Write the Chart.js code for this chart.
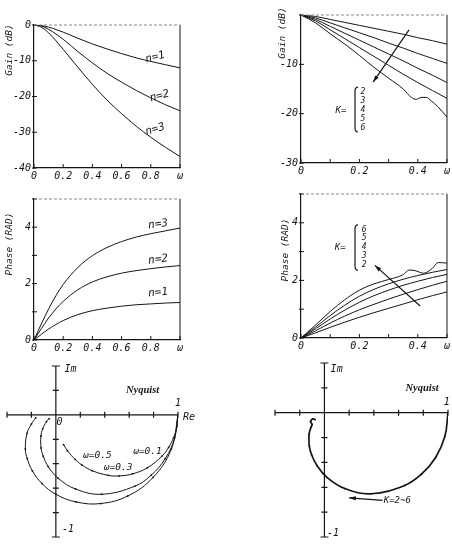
<!DOCTYPE html>
<html>
<head>
<meta charset="utf-8">
<script src="https://cdn.jsdelivr.net/npm/chart.js@4.4.1/dist/chart.umd.min.js"></script>
<style>
  body { margin: 0; background: #fff; }
  #wrap { position: relative; width: 452px; height: 545px; }
  canvas { position: absolute; }
</style>
</head>
<body>
<div id="wrap">
  <canvas id="gainN" width="200" height="190" style="left:0;top:0"></canvas>
  <canvas id="gainK" width="186" height="185" style="left:266px;top:0"></canvas>
  <canvas id="phaseN" width="200" height="170" style="left:0;top:190px"></canvas>
  <canvas id="phaseK" width="186" height="172" style="left:266px;top:185px"></canvas>
  <canvas id="nyqN" width="200" height="185" style="left:0;top:360px"></canvas>
  <canvas id="nyqK" width="226" height="188" style="left:226px;top:357px"></canvas>
</div>
<script>
// ---- left column: n = 1, 2, 3 ----
const omegaN = [0, 0.05, 0.1, 0.15, 0.2, 0.3, 0.4, 0.5, 0.6, 0.7, 0.8, 0.9, 1.0];
const gainN1 = [0, -0.16, -0.6, -1.25, -2.0, -3.7, -5.3, -6.7, -8.0, -9.2, -10.2, -11.1, -12.0];
const gainN2 = [0, -0.3, -1.2, -2.5, -4.0, -7.4, -10.6, -13.5, -16.0, -18.3, -20.4, -22.3, -24.0];
const gainN3 = [0, -0.6, -2.2, -4.4, -6.8, -11.8, -16.6, -21.0, -24.8, -28.3, -31.4, -34.2, -36.8];
const phaseN1 = [0, 0.2, 0.39, 0.55, 0.69, 0.9, 1.04, 1.13, 1.2, 1.25, 1.28, 1.31, 1.33];
const phaseN2 = [0, 0.4, 0.78, 1.1, 1.37, 1.78, 2.06, 2.24, 2.37, 2.46, 2.53, 2.59, 2.64];
const phaseN3 = [0, 0.57, 1.1, 1.57, 1.97, 2.57, 2.99, 3.28, 3.49, 3.65, 3.77, 3.87, 3.97];

// ---- right column: K = 2 .. 6 ----
const omegaK = [0, 0.05, 0.1, 0.15, 0.2, 0.25, 0.3, 0.35, 0.4, 0.45, 0.5];
const gainK2 = [0, -0.3, -0.9, -1.5, -2.1, -2.7, -3.3, -3.9, -4.6, -5.2, -5.9];
const gainK3 = [0, -0.6, -1.6, -2.6, -3.6, -4.6, -5.7, -6.7, -7.8, -8.8, -9.8];
const gainK4 = [0, -0.9, -2.3, -3.7, -5.1, -6.5, -7.9, -9.3, -10.8, -12.2, -13.7];
const gainK5 = [0, -1.2, -3.0, -4.8, -6.6, -8.4, -10.2, -12.0, -13.7, -15.3, -16.9];
const omegaK6gain = [0, 0.05, 0.1, 0.15, 0.2, 0.25, 0.3, 0.35, 0.378, 0.395, 0.412, 0.429, 0.446, 0.469, 0.5];
const gainK6 = [0, -1.6, -3.8, -5.9, -8.2, -10.6, -12.8, -15.0, -16.7, -17.1, -16.7, -16.7, -17.4, -18.6, -20.7];
const phaseK2 = [0, 0.18, 0.37, 0.55, 0.72, 0.88, 1.03, 1.18, 1.33, 1.47, 1.6];
const phaseK3 = [0, 0.25, 0.52, 0.76, 0.98, 1.17, 1.35, 1.52, 1.68, 1.83, 1.97];
const phaseK4 = [0, 0.32, 0.66, 0.97, 1.24, 1.47, 1.66, 1.83, 1.97, 2.1, 2.21];
const phaseK5 = [0, 0.38, 0.78, 1.14, 1.45, 1.69, 1.88, 2.04, 2.17, 2.28, 2.38];
const omegaK6phase = [0, 0.05, 0.1, 0.15, 0.2, 0.25, 0.3, 0.35, 0.37, 0.39, 0.42, 0.45, 0.47, 0.5];
const phaseK6 = [0, 0.45, 0.92, 1.33, 1.66, 1.88, 2.03, 2.2, 2.36, 2.34, 2.25, 2.42, 2.62, 2.6];

// ---- Nyquist loci (Re, Im) ----
const nyqN1Re = [1, 0.991, 0.964, 0.923, 0.871, 0.750, 0.628, 0.519, 0.428, 0.297, 0.212, 0.158, 0.095, 0.063];
const nyqN1Im = [0, -0.095, -0.186, -0.267, -0.335, -0.433, -0.483, -0.500, -0.495, -0.457, -0.409, -0.365, -0.294, -0.243];
const nyqN2Re = [1, 0.973, 0.895, 0.781, 0.647, 0.375, 0.161, 0.019, -0.062, -0.103, -0.121, -0.122, -0.108, -0.077, -0.055];
const nyqN2Im = [0, -0.188, -0.359, -0.493, -0.584, -0.650, -0.607, -0.519, -0.424, -0.339, -0.271, -0.173, -0.115, -0.056, -0.031];
const nyqN3Re = [1, 0.946, 0.796, 0.589, 0.368, 0.166, 0.0, -0.114, -0.192, -0.234, -0.250, -0.236, -0.200, -0.165];
const nyqN3Im = [0, -0.279, -0.512, -0.664, -0.726, -0.713, -0.650, -0.562, -0.459, -0.359, -0.279, -0.151, -0.075, -0.025];
const nyqKRe = [1, 0.975, 0.9, 0.785, 0.65, 0.38, 0.165, 0.02, -0.06, -0.103, -0.122, -0.124, -0.11, -0.1, -0.112, -0.095, -0.075];
const nyqKIm = [0, -0.19, -0.36, -0.495, -0.585, -0.652, -0.61, -0.52, -0.425, -0.34, -0.27, -0.175, -0.12, -0.095, -0.07, -0.05, -0.055];

// ---- tick labels ----
const xLabelsN = ['0', '0.2', '0.4', '0.6', '0.8', 'ω'];
const xLabelsK = ['0', '', '0.2', '', '0.4', 'ω'];
const gainLabelsN = ['-40', '-30', '-20', '-10', '0'];
const gainLabelsK = ['-30', '-20', '-10', ''];
const phaseLabels = ['0', '', '2', '', '4', ''];
const nyqTicks = [-0.4, -0.2, 0.2, 0.4, 0.6, 0.8, 1.0];
const nyqImTicks = [0.2, -0.2, -0.4, -0.6, -0.8];

const ink = '#151515';
const mono = "'DejaVu Sans Mono', monospace";
const tickFont = { family: mono, size: 10, style: 'italic' };

function pts(xs, ys) {
  return xs.map((v, i) => ({ x: v, y: ys[i] }));
}

function deco(cfg) {
  return {
    id: 'deco',
    afterDraw(chart) {
      const ctx = chart.ctx, a = chart.chartArea;
      const xs = chart.scales.x, ys = chart.scales.y;
      const X = v => xs.getPixelForValue(v), Y = v => ys.getPixelForValue(v);
      ctx.save();
      ctx.strokeStyle = ink; ctx.fillStyle = ink; ctx.lineWidth = 1;
      if (cfg.box) {
        ctx.beginPath();
        ctx.moveTo(a.right, a.bottom); ctx.lineTo(a.right, a.top);
        xs.ticks.forEach(t => { const p = X(t.value); ctx.moveTo(p, a.bottom); ctx.lineTo(p, a.bottom - 4); });
        ys.ticks.forEach(t => { const p = Y(t.value); ctx.moveTo(a.left - 2, p); ctx.lineTo(a.left + 3, p); });
        ctx.stroke();
        ctx.save();
        ctx.strokeStyle = '#888'; ctx.setLineDash([3, 2]);
        ctx.beginPath(); ctx.moveTo(a.left, a.top); ctx.lineTo(a.right, a.top); ctx.stroke();
        ctx.restore();
      }
      if (cfg.nyq) {
        const x0 = X(0), y0 = Y(0);
        ctx.lineWidth = 1.2;
        ctx.beginPath();
        ctx.moveTo(X(-0.4), y0); ctx.lineTo(X(1), y0);
        ctx.moveTo(x0, Y(0.4)); ctx.lineTo(x0, Y(-1));
        nyqTicks.forEach(v => { ctx.moveTo(X(v), y0 - 3); ctx.lineTo(X(v), y0 + 3); });
        nyqImTicks.forEach(v => { ctx.moveTo(x0 - 3, Y(v)); ctx.lineTo(x0 + 3, Y(v)); });
        [0.4, -1].forEach(v => { ctx.moveTo(x0 - 4, Y(v)); ctx.lineTo(x0 + 4, Y(v)); });
        ctx.stroke();
      }
      (cfg.texts || []).forEach(t => {
        const px = t.px ? t.x : X(t.x), py = t.px ? t.y : Y(t.y);
        ctx.save();
        ctx.font = t.font || ('italic 11px ' + mono);
        ctx.textAlign = t.align || 'center';
        ctx.textBaseline = 'middle';
        ctx.translate(px, py);
        if (t.rot) ctx.rotate(t.rot);
        ctx.fillText(t.t, 0, 0);
        ctx.restore();
      });
      (cfg.arrows || []).forEach(r => {
        const x1 = X(r[0]), y1 = Y(r[1]), x2 = X(r[2]), y2 = Y(r[3]);
        const ang = Math.atan2(y2 - y1, x2 - x1);
        ctx.lineWidth = 1.2;
        ctx.beginPath(); ctx.moveTo(x1, y1); ctx.lineTo(x2, y2); ctx.stroke();
        ctx.beginPath();
        ctx.moveTo(x2, y2);
        ctx.lineTo(x2 - 7 * Math.cos(ang - 0.3), y2 - 7 * Math.sin(ang - 0.3));
        ctx.lineTo(x2 - 7 * Math.cos(ang + 0.3), y2 - 7 * Math.sin(ang + 0.3));
        ctx.closePath(); ctx.fill();
      });
      (cfg.braces || []).forEach(b => {
        const x = X(b.x), y1 = Y(b.y1), y2 = Y(b.y2);
        ctx.lineWidth = 1.2;
        ctx.beginPath();
        ctx.moveTo(x + 3, y1);
        ctx.quadraticCurveTo(x, y1, x, y1 + 4);
        ctx.lineTo(x, y2 - 4);
        ctx.quadraticCurveTo(x, y2, x + 3, y2);
        ctx.stroke();
      });
      ctx.restore();
    }
  };
}

function curveSet(list, smooth) {
  return list.map(s => ({
    data: pts(s[0], s[1]),
    showLine: true,
    borderColor: ink,
    borderWidth: s[2] || 1,
    pointRadius: s[3] || 0,
    pointBackgroundColor: ink,
    pointBorderWidth: 0,
    tension: 0.4,
    cubicInterpolationMode: smooth ? 'monotone' : 'default'
  }));
}

function boxChart(id, cfg) {
  return new Chart(document.getElementById(id), {
    type: 'scatter',
    data: { datasets: curveSet(cfg.series, true) },
    options: {
      responsive: false,
      animation: false,
      layout: { padding: cfg.pad },
      plugins: { legend: { display: false }, tooltip: { enabled: false } },
      scales: {
        x: {
          type: 'linear', min: cfg.xmin, max: cfg.xmax,
          afterFit: s => { s.height = cfg.xh; },
          grid: { display: false, drawTicks: false },
          border: { color: ink, width: 1.2 },
          ticks: { stepSize: cfg.xstep, autoSkip: false, maxRotation: 0, padding: 2, color: ink, font: tickFont,
                   callback: (v, i) => cfg.xlab[i] }
        },
        y: {
          type: 'linear', min: cfg.ymin, max: cfg.ymax,
          afterFit: s => { s.width = cfg.yw; },
          grid: { display: false, drawTicks: false },
          border: { color: ink, width: 1.2 },
          ticks: { stepSize: cfg.ystep, autoSkip: false, padding: 3, color: ink, font: tickFont,
                   callback: (v, i) => cfg.ylab[i] }
        }
      }
    },
    plugins: [deco(Object.assign({ box: true }, cfg))]
  });
}

function nyqChart(id, cfg) {
  return new Chart(document.getElementById(id), {
    type: 'scatter',
    data: { datasets: curveSet(cfg.series, false) },
    options: {
      responsive: false,
      animation: false,
      layout: { padding: cfg.pad },
      plugins: { legend: { display: false }, tooltip: { enabled: false } },
      scales: {
        x: { type: 'linear', min: -0.4, max: 1, display: false },
        y: { type: 'linear', min: -1, max: 0.4, display: false }
      }
    },
    plugins: [deco(Object.assign({ nyq: true }, cfg))]
  });
}

const titleFont = 'italic 9.5px ' + mono;

boxChart('gainN', {
  series: [[omegaN, gainN1], [omegaN, gainN2], [omegaN, gainN3]],
  pad: { left: 0, top: 25, right: 20, bottom: 0 }, xh: 22, yw: 34,
  xmin: 0, xmax: 1, xstep: 0.2, ymin: -40, ymax: 0, ystep: 10,
  xlab: xLabelsN, ylab: gainLabelsN,
  texts: [
    { t: 'Gain (dB)', x: 10, y: 50, px: true, rot: -Math.PI / 2, font: titleFont },
    { t: 'n=1', x: 0.83, y: -9.0, rot: -0.25 },
    { t: 'n=2', x: 0.86, y: -19.9, rot: -0.25 },
    { t: 'n=3', x: 0.83, y: -29.2, rot: -0.3 }
  ]
});

boxChart('phaseN', {
  series: [[omegaN, phaseN1], [omegaN, phaseN2], [omegaN, phaseN3]],
  pad: { left: 0, top: 5, right: 20, bottom: 0 }, xh: 20, yw: 34,
  xmin: 0, xmax: 1, xstep: 0.2, ymin: 0, ymax: 5, ystep: 1,
  xlab: xLabelsN, ylab: phaseLabels,
  texts: [
    { t: 'Phase (RAD)', x: 10, y: 54, px: true, rot: -Math.PI / 2, font: titleFont },
    { t: 'n=3', x: 0.85, y: 4.1, rot: -0.12 },
    { t: 'n=2', x: 0.85, y: 2.85, rot: -0.12 },
    { t: 'n=1', x: 0.85, y: 1.68, rot: -0.1 }
  ]
});

boxChart('gainK', {
  series: [[omegaK, gainK2], [omegaK, gainK3], [omegaK, gainK4], [omegaK, gainK5], [omegaK6gain, gainK6]],
  pad: { left: 0, top: 15, right: 5, bottom: 0 }, xh: 22, yw: 35,
  xmin: 0, xmax: 0.5, xstep: 0.1, ymin: -30, ymax: 0, ystep: 10,
  xlab: xLabelsK, ylab: gainLabelsK,
  texts: [
    { t: 'Gain (dB)', x: 17, y: 33, px: true, rot: -Math.PI / 2, font: titleFont },
    { t: 'K=', x: 0.137, y: -19.3, font: 'italic 9px ' + mono },
    { t: '2', x: 0.212, y: -15.6, font: 'italic 8px ' + mono },
    { t: '3', x: 0.212, y: -17.4, font: 'italic 8px ' + mono },
    { t: '4', x: 0.212, y: -19.3, font: 'italic 8px ' + mono },
    { t: '5', x: 0.212, y: -21.1, font: 'italic 8px ' + mono },
    { t: '6', x: 0.212, y: -22.9, font: 'italic 8px ' + mono }
  ],
  braces: [{ x: 0.185, y1: -14.6, y2: -23.7 }],
  arrows: [[0.37, -3.0, 0.247, -13.6]]
});

boxChart('phaseK', {
  series: [[omegaK, phaseK2], [omegaK, phaseK3], [omegaK, phaseK4], [omegaK, phaseK5], [omegaK6phase, phaseK6]],
  pad: { left: 0, top: 3, right: 5, bottom: 0 }, xh: 19, yw: 35,
  xmin: 0, xmax: 0.5, xstep: 0.1, ymin: 0, ymax: 5, ystep: 1,
  xlab: xLabelsK, ylab: phaseLabels,
  texts: [
    { t: 'Phase (RAD)', x: 20, y: 65, px: true, rot: -Math.PI / 2, font: titleFont },
    { t: 'K=', x: 0.134, y: 3.12, font: 'italic 9px ' + mono },
    { t: '6', x: 0.216, y: 3.76, font: 'italic 8px ' + mono },
    { t: '5', x: 0.216, y: 3.46, font: 'italic 8px ' + mono },
    { t: '4', x: 0.216, y: 3.16, font: 'italic 8px ' + mono },
    { t: '3', x: 0.216, y: 2.85, font: 'italic 8px ' + mono },
    { t: '2', x: 0.216, y: 2.55, font: 'italic 8px ' + mono }
  ],
  braces: [{ x: 0.185, y1: 3.93, y2: 2.35 }],
  arrows: [[0.408, 1.11, 0.253, 2.52]]
});

nyqChart('nyqN', {
  series: [[nyqN1Re, nyqN1Im, 1, 0.9], [nyqN2Re, nyqN2Im, 1, 0.9], [nyqN3Re, nyqN3Im, 1, 0.9]],
  pad: { left: 7, top: 6, right: 22, bottom: 8 },
  texts: [
    { t: 'Im', x: 0.07, y: 0.37, align: 'left', font: 'italic 10px ' + mono },
    { t: 'Nyquist', x: 0.71, y: 0.2, font: 'bold italic 10.5px "Liberation Serif"' },
    { t: '1', x: 1.0, y: 0.09, font: 'italic 10px ' + mono },
    { t: 'Re', x: 1.04, y: -0.02, align: 'left', font: 'italic 10px ' + mono },
    { t: '0', x: 0.03, y: -0.065, font: 'italic 10px ' + mono },
    { t: '-1', x: 0.05, y: -0.94, align: 'left', font: 'italic 10px ' + mono },
    { t: 'ω=0.5', x: 0.34, y: -0.33, font: 'italic 9.5px ' + mono },
    { t: 'ω=0.3', x: 0.51, y: -0.43, font: 'italic 9.5px ' + mono },
    { t: 'ω=0.1', x: 0.75, y: -0.3, font: 'italic 9.5px ' + mono }
  ]
});

nyqChart('nyqK', {
  series: [[nyqKRe, nyqKIm, 1.7, 0.9]],
  pad: { left: 49, top: 6, right: 3, bottom: 8 },
  texts: [
    { t: 'Im', x: 0.05, y: 0.35, align: 'left', font: 'italic 10px ' + mono },
    { t: 'Nyquist', x: 0.79, y: 0.2, font: 'bold italic 10.5px "Liberation Serif"' },
    { t: '1', x: 0.99, y: 0.08, font: 'italic 10px ' + mono },
    { t: '-1', x: 0.02, y: -0.97, align: 'left', font: 'italic 10px ' + mono },
    { t: 'K=2~6', x: 0.48, y: -0.71, align: 'left', font: 'italic 9px ' + mono }
  ],
  arrows: [[0.47, -0.705, 0.2, -0.685]]
});
</script>
</body>
</html>
